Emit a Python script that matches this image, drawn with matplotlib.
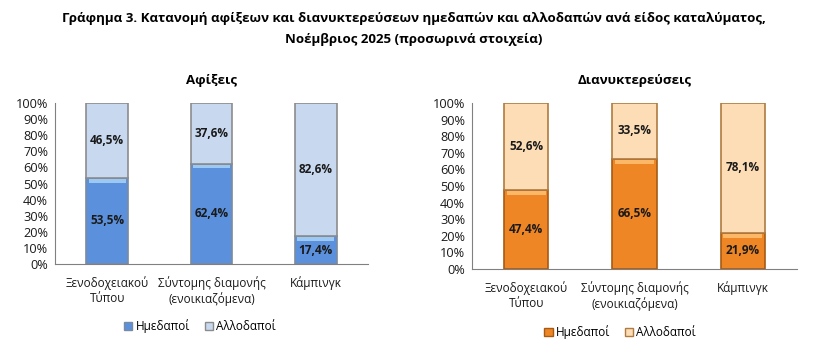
import matplotlib
matplotlib.use("Agg")
import matplotlib.pyplot as plt
import matplotlib.patches as mpatches
import numpy as np

plt.rcParams['font.family'] = ['Open Sans', 'DejaVu Sans']

# data
categories = ['Ξενοδοχειακού\nΤύπου', 'Σύντομης διαμονής\n(ενοικιαζόμενα)', 'Κάμπινγκ']
series_names = ['Ημεδαποί', 'Αλλοδαποί']
arrivals_dom = [53.5, 62.4, 17.4]
arrivals_for = [46.5, 37.6, 82.6]
nights_dom = [47.4, 66.5, 21.9]
nights_for = [52.6, 33.5, 78.1]

title = ('Γράφημα 3. Κατανομή αφίξεων και διανυκτερεύσεων ημεδαπών και αλλοδαπών ανά είδος καταλύματος,\n'
         'Νοέμβριος 2025 (προσωρινά στοιχεία)')


def fmt(v):
    return f'{v:.1f}%'.replace('.', ',')


def draw_panel(ax, dom, fore, name, c_dom, c_for, e_dom, e_for, hl_dom, width):
    x = np.arange(len(categories))
    ax.bar(x, dom, width=width, color=c_dom, edgecolor=e_dom, linewidth=1.2)
    ax.bar(x, fore, bottom=dom, width=width, color=c_for, edgecolor=e_for, linewidth=1.2)
    # light bevel at the top of the lower segment
    ax.bar(x, 2.4, bottom=np.array(dom) - 3.0, width=width * 0.88, color=hl_dom,
           linewidth=0)
    for i in range(len(x)):
        ax.text(x[i], dom[i] / 2, fmt(dom[i]), ha='center', va='center',
                fontsize=8.5, fontweight='bold', color='#1a1a1a')
        ax.text(x[i], dom[i] + fore[i] / 2, fmt(fore[i]), ha='center', va='center',
                fontsize=8.5, fontweight='bold', color='#1a1a1a')
    ax.set_xlim(-0.5, len(x) - 0.5)
    ax.set_ylim(0, 100)
    ax.set_yticks(np.arange(0, 101, 10))
    ax.set_yticklabels([f'{t}%' for t in range(0, 101, 10)])
    ax.set_xticks(x)
    ax.set_xticklabels(categories)
    ax.tick_params(axis='both', length=0, labelsize=8.5, colors='#1a1a1a')
    ax.tick_params(axis='y', labelsize=9.2, pad=5)
    ax.tick_params(axis='x', pad=9)
    for s in ['top', 'right']:
        ax.spines[s].set_visible(False)
    ax.spines['left'].set_color('#808080')
    ax.spines['bottom'].set_color('#808080')
    ax.set_title(name, fontsize=9.5, fontweight='bold', pad=14)
    handles = [mpatches.Patch(facecolor=c_dom, edgecolor=e_dom, label=series_names[0]),
               mpatches.Patch(facecolor=c_for, edgecolor=e_for, label=series_names[1])]
    return handles


fig = plt.figure(figsize=(8.27, 3.56), dpi=100)
fig.text(0.5, 0.918, title, ha='center', va='center', fontsize=9.5,
         fontweight='bold', linespacing=1.85)

ax1 = fig.add_axes([0.0665, 0.2584, 0.3785, 0.452])
h1 = draw_panel(ax1, arrivals_dom, arrivals_for, 'Αφίξεις',
                '#5B91DC', '#C7D8EF', '#7a8aa0', '#8c8c8c', '#9cc8f4', 0.4)
fig.legend(handles=h1, loc='center', bbox_to_anchor=(0.242, 0.083), ncol=2,
           frameon=False, fontsize=8.5, handlelength=0.7, handleheight=0.7,
           handletextpad=0.3, columnspacing=1.2)

ax2 = fig.add_axes([0.5707, 0.2444, 0.393, 0.4663])
h2 = draw_panel(ax2, nights_dom, nights_for, 'Διανυκτερεύσεις',
                '#EE8625', '#FDDDB6', '#a65a14', '#b07a40', '#fcb866', 0.41)
fig.legend(handles=h2, loc='center', bbox_to_anchor=(0.75, 0.066), ncol=2,
           frameon=False, fontsize=8.5, handlelength=0.7, handleheight=0.7,
           handletextpad=0.3, columnspacing=1.2)

fig.savefig('out.png', dpi=100)
